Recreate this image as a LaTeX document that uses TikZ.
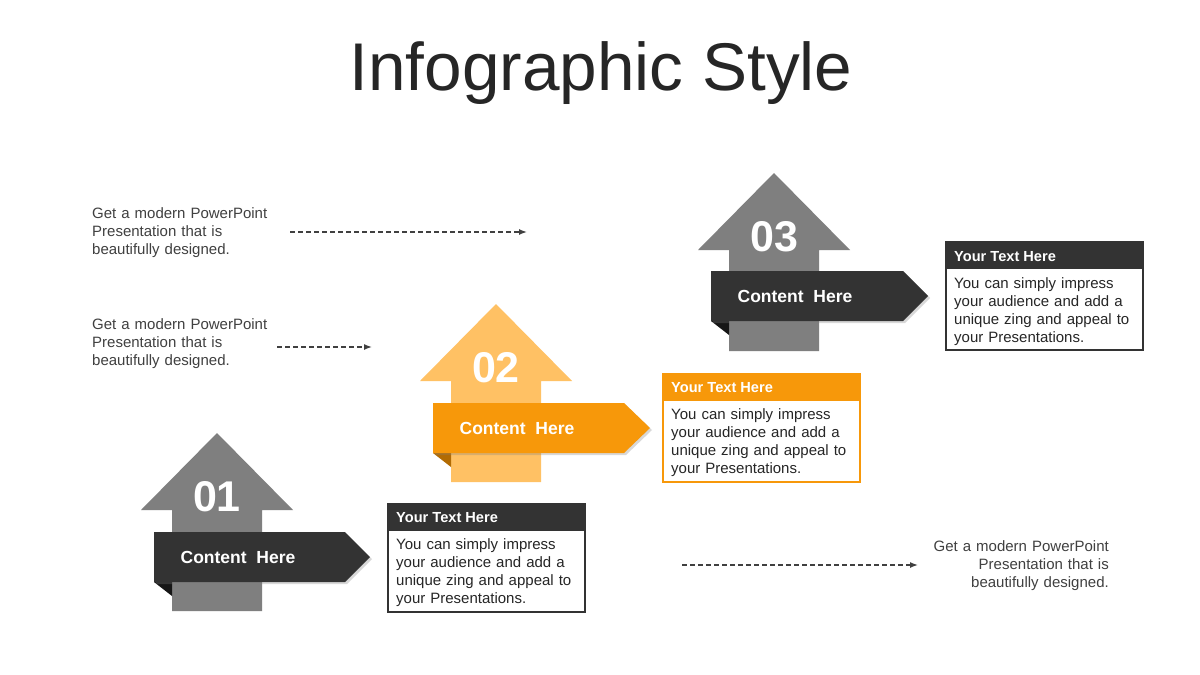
\documentclass[tikz,border=0pt]{standalone}
\usepackage{fontspec}
\setmainfont{Liberation Sans}
\usetikzlibrary{arrows.meta,shadows}
\definecolor{darkband}{HTML}{333333}
\definecolor{darkfold}{HTML}{161616}
\definecolor{greyarrow}{HTML}{7F7F7F}
\definecolor{orangeband}{HTML}{F7980A}
\definecolor{orangefold}{HTML}{B26B02}
\definecolor{lightorange}{HTML}{FFC164}
\definecolor{notegrey}{HTML}{404040}
\definecolor{titlegrey}{HTML}{262626}
\tikzset{
  band/.style={fill=#1,drop shadow={shadow xshift=2pt,shadow yshift=-2pt,opacity=0.3}},
  numtext/.style={text=white,font=\fontsize{43}{50}\selectfont\bfseries},
  bandtext/.style={text=white,font=\fontsize{17.5}{20}\selectfont\bfseries},
  note/.style={text=notegrey,font=\fontsize{15}{18}\selectfont,inner sep=0pt,text width=190pt},
  dasharr/.style={draw=notegrey,line width=1.4pt,dash pattern=on 5pt off 3pt,-{Latex[length=8pt,width=6pt]}},
  boxframe/.style={draw=#1,line width=1.5pt,fill=white,minimum width=197pt,minimum height=108pt,inner sep=0pt},
  boxhead/.style={fill=#1,minimum width=197pt,minimum height=28pt,inner sep=0pt},
  headtext/.style={text=white,font=\fontsize{14.6}{17}\selectfont\bfseries,inner sep=0pt},
  bodytext/.style={text=titlegrey,font=\fontsize{15}{18}\selectfont,inner sep=0pt,align=left,text width=185pt}
}
\begin{document}
\begin{tikzpicture}[x=1pt,y=-1pt]
\useasboundingbox[fill=white] (0,0) rectangle (1200,675);
% title
\node[anchor=base,text=titlegrey,font=\fontsize{67.5}{72}\selectfont] (title) at (601,90) {Infographic Style};
% side notes
\node[note,align=left,anchor=base west] (note1) at (92,218) {Get a modern PowerPoint\\Presentation that is\\beautifully designed.};
\node[note,align=left,anchor=base west] (note2) at (92,329) {Get a modern PowerPoint\\Presentation that is\\beautifully designed.};
\node[note,align=right,anchor=base east] (note3) at (1109,551) {Get a modern PowerPoint\\Presentation that is\\beautifully designed.};
\coordinate (d1s) at (290,232); \coordinate (d1e) at (527,232);
\coordinate (d2s) at (277,347); \coordinate (d2e) at (372,347);
\coordinate (d3s) at (682,565); \coordinate (d3e) at (918,565);
\draw[dasharr] (d1s) -- (d1e);
\draw[dasharr] (d2s) -- (d2e);
\draw[dasharr] (d3s) -- (d3e);
% step 01
\begin{scope}[shift={(217,433)}]
\fill[greyarrow] (0,0) -- (76,77) -- (45,77) -- (45,178) -- (-45,178) -- (-45,77) -- (-76,77) -- cycle;
\fill[darkfold] (-63,149) -- (-45,149) -- (-45,163) -- cycle;
\path[band=darkband] (-63,99) -- (128,99) -- (153,124) -- (128,149) -- (-63,149) -- cycle;
\node[numtext] (num1) at (0,64) {01};
\node[bandtext] (lbl1) at (21,124) {Content\ \ Here};
\end{scope}
\node[boxframe=darkband,anchor=north west] (box1) at (387,503) {};
\node[boxhead=darkband,anchor=north west] (hdr1) at (box1.north west) {};
\node[headtext,anchor=base west] (ht1) at ([xshift=9pt,yshift=-19pt]box1.north west) {Your Text Here};
\node[bodytext,anchor=base west] (bt1) at ([xshift=9pt,yshift=-46pt]box1.north west) {You can simply impress\\your audience and add a\\unique zing and appeal to\\your Presentations.};
% step 02
\begin{scope}[shift={(496,304)}]
\fill[lightorange] (0,0) -- (76,77) -- (45,77) -- (45,178) -- (-45,178) -- (-45,77) -- (-76,77) -- cycle;
\fill[orangefold] (-63,149) -- (-45,149) -- (-45,163) -- cycle;
\path[band=orangeband] (-63,99) -- (128,99) -- (154,124) -- (128,149) -- (-63,149) -- cycle;
\node[numtext] (num2) at (0,64) {02};
\node[bandtext] (lbl2) at (21,124) {Content\ \ Here};
\end{scope}
\node[boxframe=orangeband,anchor=north west] (box2) at (662,373) {};
\node[boxhead=orangeband,anchor=north west] (hdr2) at (box2.north west) {};
\node[headtext,anchor=base west] (ht2) at ([xshift=9pt,yshift=-19pt]box2.north west) {Your Text Here};
\node[bodytext,anchor=base west] (bt2) at ([xshift=9pt,yshift=-46pt]box2.north west) {You can simply impress\\your audience and add a\\unique zing and appeal to\\your Presentations.};
% step 03
\begin{scope}[shift={(774,173)}]
\fill[greyarrow] (0,0) -- (76,77) -- (45,77) -- (45,178) -- (-45,178) -- (-45,77) -- (-76,77) -- cycle;
\fill[darkfold] (-63,148) -- (-45,148) -- (-45,162) -- cycle;
\path[band=darkband] (-63,98) -- (129,98) -- (154,123) -- (129,148) -- (-63,148) -- cycle;
\node[numtext] (num3) at (0,64) {03};
\node[bandtext] (lbl3) at (21,123) {Content\ \ Here};
\end{scope}
\node[boxframe=darkband,anchor=north west] (box3) at (945,241) {};
\node[boxhead=darkband,anchor=north west] (hdr3) at (box3.north west) {};
\node[headtext,anchor=base west] (ht3) at ([xshift=9pt,yshift=-20pt]box3.north west) {Your Text Here};
\node[bodytext,anchor=base west] (bt3) at ([xshift=9pt,yshift=-47pt]box3.north west) {You can simply impress\\your audience and add a\\unique zing and appeal to\\your Presentations.};
\end{tikzpicture}
\end{document}
